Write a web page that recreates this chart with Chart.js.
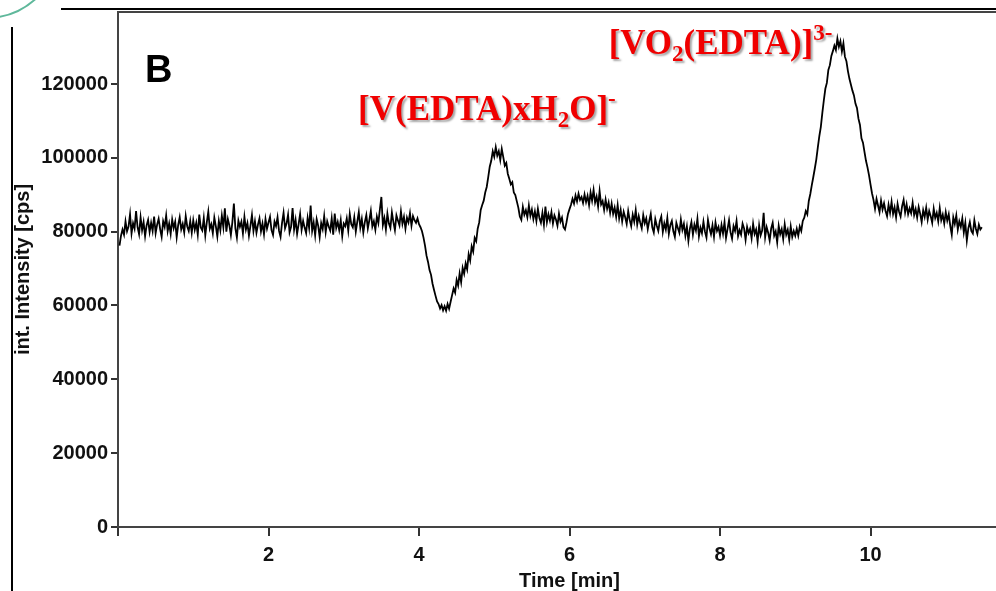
<!DOCTYPE html>
<html>
<head>
<meta charset="utf-8">
<script src="https://cdn.jsdelivr.net/npm/chart.js@4.4.1/dist/chart.umd.min.js"></script>
<style>
  html, body { margin: 0; padding: 0; background: #fff; overflow: hidden; }
  #wrap { position: relative; width: 1021px; height: 591px; }
</style>
</head>
<body>
<div id="wrap"><canvas id="graph"></canvas></div>
<script>
// intensities in kcps, one reading every 0.02 min starting at 0.02 min
const sampleStep = 0.02;
const minute0 = [76.2, 78.9, 80.6, 79.2, 82.8, 80.1, 81.4, 84.7, 79.5, 82.3, 80.8, 85.6, 81.2, 79.3, 83.9, 80.4, 82.6, 78.8, 81.7, 83.2, 79.9, 82.4, 80.2, 84.1, 79.6,
  81.9, 83.5, 80.7, 78.6, 82.8, 81.3, 84.4, 80.1, 82.2, 79.4, 83.3, 81.0, 82.7, 78.5, 81.8, 83.9, 80.6, 82.1, 79.8, 84.2, 81.4, 80.2, 82.9, 79.7, 83.1];
const minute1 = [80.5, 82.4, 79.2, 84.6, 81.1, 80.3, 83.7, 79.0, 82.5, 85.4, 80.8, 82.0, 79.6, 83.8, 81.5, 78.7, 82.9, 80.4, 84.3, 81.2, 86.3, 80.0, 83.4, 81.7, 79.1,
  82.6, 87.6, 80.9, 78.4, 83.0, 81.3, 82.7, 79.5, 84.0, 80.6, 82.3, 78.9, 81.6, 84.5, 80.2, 82.8, 79.7, 81.9, 83.6, 80.1, 82.2, 79.3, 83.4, 80.8, 82.5];
const minute2 = [84.0, 80.4, 79.1, 82.7, 81.5, 83.9, 80.2, 78.6, 82.4, 85.1, 80.9, 82.2, 84.6, 79.8, 81.3, 86.4, 80.6, 83.2, 79.4, 82.0, 84.8, 80.5, 82.9, 81.1, 79.6,
  83.7, 81.0, 87.1, 80.2, 82.5, 79.0, 83.4, 81.6, 78.5, 82.3, 80.7, 84.2, 79.9, 82.8, 81.4, 80.3, 83.6, 79.2, 84.9, 81.0, 82.6, 80.4, 83.1, 78.8, 82.2];
const minute3 = [81.5, 83.6, 80.3, 84.8, 82.0, 81.2, 83.9, 80.0, 82.7, 85.3, 81.1, 83.4, 79.8, 82.6, 84.5, 80.9, 83.1, 85.6, 81.4, 82.8, 80.5, 84.1, 82.3, 86.0, 89.4,
  81.8, 83.7, 80.6, 84.9, 82.2, 81.0, 85.2, 82.6, 80.4, 84.4, 83.0, 81.7, 85.5, 82.1, 84.0, 80.8, 83.8, 82.5, 85.0, 81.6, 84.2, 83.1, 82.4, 83.6, 82.0];
const minute4 = [81.2, 80.1, 78.4, 76.2, 73.5, 71.8, 69.6, 68.3, 65.9, 64.2, 62.6, 61.1, 60.4, 59.2, 60.1, 58.7, 59.8, 58.6, 60.4, 59.1, 61.0, 62.8, 64.6, 63.5, 66.9,
  65.4, 68.7, 66.3, 70.2, 68.6, 71.4, 69.8, 73.9, 72.2, 76.0, 74.6, 78.3, 77.4, 80.8, 82.5, 85.9, 87.2, 88.4, 90.6, 92.1, 94.8, 97.6, 99.2, 101.8, 100.3];
const minute5 = [102.9, 100.6, 101.8, 99.4, 102.4, 100.2, 97.9, 98.6, 95.7, 94.3, 92.8, 93.4, 90.6, 89.9, 88.2, 86.5, 84.1, 83.2, 86.7, 84.6, 85.8, 83.9, 87.1, 84.3, 86.0,
  83.4, 85.5, 82.9, 86.2, 83.7, 82.4, 85.1, 81.9, 86.8, 82.6, 84.7, 83.0, 85.3, 82.2, 84.4, 83.3, 81.6, 84.9, 82.7, 83.8, 81.2, 80.6, 82.5, 84.8, 86.1];
const minute6 = [87.3, 88.9, 87.6, 89.8, 88.2, 90.3, 88.6, 89.4, 87.8, 90.1, 88.0, 89.7, 87.2, 90.6, 88.4, 91.3, 87.9, 89.5, 86.8, 91.0, 87.4, 88.3, 85.9, 88.7, 86.2,
  87.9, 85.1, 87.6, 84.8, 86.5, 84.0, 87.2, 83.6, 85.9, 82.8, 85.4, 83.9, 82.1, 85.6, 83.2, 81.5, 84.6, 82.7, 85.8, 81.9, 84.2, 82.4, 80.9, 84.5, 82.3];
const minute7 = [83.6, 80.7, 82.9, 84.8, 81.2, 79.8, 83.4, 81.6, 80.2, 82.8, 84.1, 79.9, 82.3, 80.6, 83.7, 79.4, 81.8, 82.9, 80.1, 78.6, 82.4, 81.0, 79.7, 83.3, 80.5,
  82.1, 78.9, 81.4, 77.5, 80.8, 82.6, 79.2, 81.9, 80.3, 83.5, 78.7, 81.1, 79.6, 82.7, 80.0, 78.4, 83.2, 80.9, 79.3, 81.7, 78.6, 82.5, 80.2, 81.3, 79.0];
const minute8 = [81.8, 79.5, 82.6, 78.3, 80.7, 83.1, 79.8, 78.1, 81.5, 80.2, 82.9, 78.8, 80.4, 79.2, 82.2, 80.9, 77.8, 81.3, 79.6, 80.8, 78.2, 82.1, 79.4, 80.6, 77.3,
  81.7, 79.0, 80.3, 85.1, 78.5, 81.2, 79.7, 77.6, 80.9, 82.4, 78.9, 80.1, 77.1, 81.6, 79.3, 80.7, 78.0, 82.0, 79.2, 80.5, 77.8, 81.4, 78.6, 80.2, 78.9];
const minute9 = [80.8, 78.9, 81.4, 80.2, 82.9, 83.8, 85.6, 84.7, 88.3, 90.2, 92.6, 94.8, 97.1, 99.6, 102.8, 105.9, 108.4, 112.2, 115.6, 118.7, 120.3, 123.8, 125.1, 127.6, 128.9,
  130.4, 129.2, 132.3, 130.1, 131.6, 128.8, 131.0, 127.4, 126.2, 123.5, 121.4, 119.8, 118.2, 116.9, 114.7, 113.5, 110.6, 108.9, 105.3, 104.1, 101.6, 99.2, 97.4, 95.3, 92.8];
const minute10 = [90.4, 88.6, 86.2, 88.9, 87.1, 85.3, 88.4, 86.0, 87.7, 85.6, 84.2, 87.3, 85.1, 88.1, 84.8, 86.6, 83.9, 87.5, 85.4, 84.1, 86.9, 88.6, 85.2, 87.4, 84.7,
  86.3, 85.0, 87.8, 84.5, 86.1, 83.8, 86.7, 84.9, 82.6, 85.8, 84.0, 86.5, 83.3, 85.6, 84.2, 82.4, 86.2, 83.7, 85.1, 82.8, 86.4, 83.1, 84.6, 82.2, 85.3];
const minute11 = [83.0, 84.7, 81.6, 79.2, 83.9, 82.1, 84.4, 80.6, 82.8, 81.3, 83.6, 79.8, 82.4, 77.6, 80.9, 82.6, 80.2, 79.5, 83.1, 80.8, 79.4, 81.9, 80.6, 81.2];

const xTicks = [0, 2, 4, 6, 8, 10, 12];
const yTicks = [0, 20000, 40000, 60000, 80000, 100000, 120000];

const labels = [
  { time: 3.19, value: 110300, parts: [['[V(EDTA)xH', 0], ['2', 1], ['O]', 0], ['-', -1]] },
  { time: 6.52, value: 128000, parts: [['[VO', 0], ['2', 1], ['(EDTA)]', 0], ['3-', -1]] }
];

const intensity = [].concat(minute0, minute1, minute2, minute3, minute4, minute5,
  minute6, minute7, minute8, minute9, minute10, minute11);
const points = intensity.map((v, i) => ({ x: +(sampleStep * (i + 1)).toFixed(2), y: v * 1000 }));

const axisFont = { family: "'Liberation Sans', Arial, sans-serif", size: 20, weight: 'bold' };

const decor = {
  id: 'decor',
  afterDatasetsDraw(chart) {
    const { ctx, chartArea, scales } = chart;
    ctx.save();
    // page frame bits
    ctx.strokeStyle = '#5fb89b';
    ctx.lineWidth = 2;
    ctx.beginPath();
    ctx.arc(-14, -56, 74, 0, Math.PI / 2);
    ctx.stroke();
    ctx.strokeStyle = '#000';
    ctx.beginPath();
    ctx.moveTo(61, 9); ctx.lineTo(chart.width, 9);
    ctx.moveTo(12, 27); ctx.lineTo(12, chart.height);
    ctx.stroke();
    ctx.strokeStyle = '#444';
    ctx.beginPath();
    ctx.moveTo(chartArea.left, chartArea.top); ctx.lineTo(chart.width, chartArea.top);
    ctx.stroke();

    // panel letter
    ctx.fillStyle = '#000';
    ctx.font = "bold 38px 'Liberation Sans', sans-serif";
    ctx.textBaseline = 'alphabetic';
    ctx.fillText('B', scales.x.getPixelForValue(0.36), scales.y.getPixelForValue(120500));

    // species labels
    ctx.shadowColor = 'rgba(0,0,0,0.35)';
    ctx.shadowOffsetX = 2;
    ctx.shadowOffsetY = 2;
    ctx.shadowBlur = 2;
    ctx.fillStyle = '#f00000';
    labels.forEach(lab => {
      let x = scales.x.getPixelForValue(lab.time);
      const y = scales.y.getPixelForValue(lab.value);
      lab.parts.forEach(([txt, kind]) => {
        ctx.font = kind === 0 ? "bold 35px 'Liberation Serif', serif" : "bold 23px 'Liberation Serif', serif";
        const dy = kind === 1 ? 7 : kind === -1 ? -14 : 0;
        ctx.fillText(txt, x, y + dy);
        x += ctx.measureText(txt).width;
      });
    });
    ctx.restore();
  }
};

const ctx = document.getElementById('graph').getContext('2d');
const chart = new Chart(ctx, {
  type: 'line',
  data: {
    datasets: [{
      data: points,
      borderColor: '#000',
      borderWidth: 1.8,
      pointRadius: 0,
      tension: 0,
      fill: false
    }]
  },
  options: {
    responsive: true,
    maintainAspectRatio: false,
    animation: false,
    layout: { padding: { top: 12, left: 0, right: 0, bottom: 0 } },
    plugins: { legend: { display: false }, tooltip: { enabled: false } },
    scales: {
      x: {
        type: 'linear',
        min: 0,
        max: 12,
        afterBuildTicks: s => { s.ticks = xTicks.map(v => ({ value: v })); },
        afterFit: s => { s.height = 64; s.paddingLeft = 0; s.paddingRight = 0; },
        grid: { drawOnChartArea: false, drawTicks: true, tickLength: 9, color: '#333', lineWidth: 2 },
        border: { display: true, color: '#444', width: 2 },
        ticks: {
          color: '#111',
          font: axisFont,
          padding: 7,
          maxRotation: 0,
          callback: v => (v === 0 || v === 12) ? '' : v
        },
        title: { display: true, text: 'Time [min]', color: '#111', font: axisFont, padding: { top: 0, bottom: -2 } }
      },
      y: {
        min: 0,
        max: 139500,
        afterBuildTicks: s => { s.ticks = yTicks.map(v => ({ value: v })); },
        afterFit: s => { s.width = 118; s.paddingTop = 0; s.paddingBottom = 0; },
        grid: { drawOnChartArea: false, drawTicks: true, tickLength: 7, color: '#333', lineWidth: 2 },
        border: { display: true, color: '#444', width: 2 },
        ticks: { color: '#111', font: axisFont, padding: 3, callback: v => v },
        title: { display: true, text: 'int. Intensity [cps]', color: '#111', font: axisFont, padding: { top: 11, bottom: 0 } }
      }
    }
  },
  plugins: [decor]
});
</script>
</body>
</html>
